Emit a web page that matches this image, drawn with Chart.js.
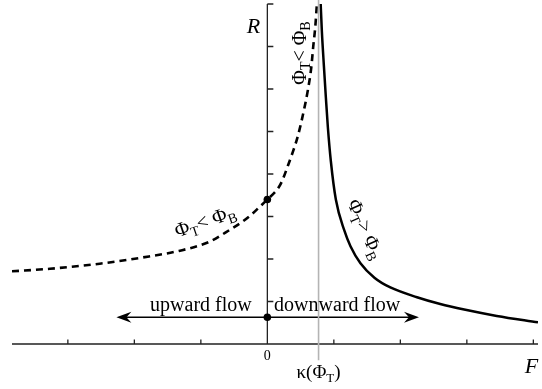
<!DOCTYPE html>
<html>
<head>
<meta charset="utf-8">
<script src="https://cdn.jsdelivr.net/npm/chart.js@4.4.1/dist/chart.umd.min.js"></script>
<style>
  html, body { margin: 0; padding: 0; background: #fff; }
  #wrap { width: 542px; height: 389px; position: relative; }
</style>
</head>
<body>
<div id="wrap"><canvas id="chart"></canvas></div>
<script>
// Axis ticks (F horizontal, R vertical)
const xTicks = [-3, -2, -1, 1, 2, 3, 4];
const yTicks = [1, 2, 3, 4, 5, 6, 7, 8];
const kappa = 0.77;

// Phi_T < Phi_B branch (dashed)
const dashedF = [-3.84, -3.27, -2.52, -1.78, -1.33, -0.88, -0.55, -0.39, -0.25, -0.12, 0, 0.15, 0.22, 0.31, 0.39, 0.46, 0.55, 0.61, 0.66, 0.69, 0.72, 0.745];
const dashedR = [1.71, 1.77, 1.89, 2.06, 2.19, 2.40, 2.70, 2.86, 3.03, 3.22, 3.40, 3.64, 3.83, 4.20, 4.55, 4.90, 5.50, 5.98, 6.50, 7.00, 7.45, 8.00];

// Phi_T > Phi_B branch (solid)
const solidF = [0.80, 0.82, 0.85, 0.88, 0.91, 0.955, 1.03, 1.16, 1.25, 1.40, 1.61, 1.85, 2.25, 2.60, 2.96, 3.45, 4.07];
const solidR = [8.07, 7.35, 6.55, 5.80, 5.10, 4.30, 3.40, 2.66, 2.30, 1.90, 1.56, 1.33, 1.10, 0.94, 0.81, 0.66, 0.51];

// flow arrows and marked points
const flowR = 0.63;
const upwardEnd = -2.27;
const downwardEnd = 2.28;
const dotF = [0, 0];
const dotR = [3.40, 0.63];

const pts = (xs, ys) => xs.map((x, i) => ({ x: x, y: ys[i] }));

const SERIF = '"Liberation Serif", "DejaVu Serif", serif';

// draw a label like Φ_T< Φ_B with subscripts, centred at (cx, cy), rotated by ang
function subLabel(ctx, parts, cx, cy, ang, size) {
    const big = size + 'px ' + SERIF, small = Math.round(size * 0.7) + 'px ' + SERIF;
    let w = 0;
    parts.forEach(p => { ctx.font = p[1] ? small : big; w += ctx.measureText(p[0]).width; });
    ctx.save();
    ctx.translate(cx, cy);
    ctx.rotate(ang * Math.PI / 180);
    ctx.textBaseline = 'alphabetic';
    ctx.textAlign = 'left';
    let x = -w / 2;
    parts.forEach(p => {
        ctx.font = p[1] ? small : big;
        ctx.fillText(p[0], x, p[1] ? size * 0.55 : size * 0.33);
        x += ctx.measureText(p[0]).width;
    });
    ctx.restore();
}

const decor = {
    id: 'decor',
    beforeDatasetsDraw(chart) {
        const { ctx, chartArea: a, scales: { x, y } } = chart;
        const x0 = x.getPixelForValue(0), y0 = y.getPixelForValue(0);
        ctx.save();
        ctx.strokeStyle = '#222';
        ctx.lineWidth = 1.3;
        ctx.beginPath();
        ctx.moveTo(a.left, y0); ctx.lineTo(a.right, y0);
        ctx.moveTo(x0, y0); ctx.lineTo(x0, y.getPixelForValue(8));
        xTicks.forEach(t => { const px = x.getPixelForValue(t); ctx.moveTo(px, y0); ctx.lineTo(px, y0 - 4.5); });
        yTicks.forEach(t => { const py = y.getPixelForValue(t); ctx.moveTo(x0, py); ctx.lineTo(x0 + 6, py); });
        ctx.stroke();
        ctx.restore();
    },
    afterDatasetsDraw(chart) {
        const { ctx, scales: { x, y } } = chart;
        const x0 = x.getPixelForValue(0), y0 = y.getPixelForValue(0);
        const fy = y.getPixelForValue(flowR);
        ctx.save();
        ctx.fillStyle = '#000';
        // arrow heads
        [[upwardEnd, -1], [downwardEnd, 1]].forEach(([v, d]) => {
            const tx = x.getPixelForValue(v);
            ctx.beginPath();
            ctx.moveTo(tx, fy);
            ctx.lineTo(tx - d * 15, fy - 5.5);
            ctx.lineTo(tx - d * 10, fy);
            ctx.lineTo(tx - d * 15, fy + 5.5);
            ctx.closePath();
            ctx.fill();
        });

        ctx.textAlign = 'center';
        ctx.textBaseline = 'alphabetic';
        ctx.font = 'italic 22px ' + SERIF;
        ctx.fillText('R', x0 - 14, y.getPixelForValue(7.32));
        ctx.fillText('F', x.getPixelForValue(3.97), y0 + 29);
        ctx.font = '14px ' + SERIF;
        ctx.fillText('0', x0, y0 + 16);

        // kappa(Phi_T) under the grey line
        const kx = x.getPixelForValue(kappa);
        ctx.font = '19px ' + SERIF;
        const wa = ctx.measureText('κ(Φ').width, wc = ctx.measureText(')').width;
        ctx.font = '13px ' + SERIF;
        const wb = ctx.measureText('T').width;
        let sx = kx - (wa + wb + wc) / 2;
        ctx.textAlign = 'left';
        ctx.font = '19px ' + SERIF;
        ctx.fillText('κ(Φ', sx, y0 + 34);
        ctx.font = '13px ' + SERIF;
        ctx.fillText('T', sx + wa, y0 + 38);
        ctx.font = '19px ' + SERIF;
        ctx.fillText(')', sx + wa + wb, y0 + 34);

        ctx.textAlign = 'center';
        ctx.font = '20px ' + SERIF;
        ctx.fillText('upward flow', (x0 + x.getPixelForValue(upwardEnd)) / 2 + 9, fy - 6);
        ctx.fillText('downward flow', (x0 + x.getPixelForValue(downwardEnd)) / 2 - 6, fy - 6);

        // branch labels
        const lt = [['Φ', 0], ['T', 1], ['< Φ', 0], ['B', 1]];
        const gt = [['Φ', 0], ['T', 1], ['> Φ', 0], ['B', 1]];
        subLabel(ctx, lt, 205, 221, -19, 20);
        subLabel(ctx, lt, 299, 53, -90, 20);
        subLabel(ctx, gt, 366, 229, 66, 20);
        ctx.restore();
    }
};

new Chart(document.getElementById('chart'), {
    type: 'scatter',
    data: {
        datasets: [
            {   // kappa(Phi_T) marker line
                data: [{ x: kappa, y: -0.38 }, { x: kappa, y: 8.1 }],
                showLine: true, borderColor: '#b4b4b4', borderWidth: 1.6,
                pointRadius: 0, clip: false
            },
            {
                data: pts(dashedF, dashedR),
                showLine: true, borderColor: '#000', borderWidth: 2.6,
                borderDash: [7, 5], pointRadius: 0, cubicInterpolationMode: 'monotone'
            },
            {
                data: pts(solidF, solidR),
                showLine: true, borderColor: '#000', borderWidth: 2.5,
                pointRadius: 0, cubicInterpolationMode: 'monotone'
            },
            {   // flow arrows (shafts)
                data: [{ x: upwardEnd + 0.1, y: flowR }, { x: 0, y: flowR }, { x: downwardEnd - 0.1, y: flowR }],
                showLine: true, borderColor: '#000', borderWidth: 1.3, pointRadius: 0
            },
            {
                data: pts(dotF, dotR),
                showLine: false, pointRadius: 3.8, pointBackgroundColor: '#000', pointBorderWidth: 0
            }
        ]
    },
    options: {
        responsive: true,
        maintainAspectRatio: false,
        animation: false,
        layout: { padding: { left: 12, right: 0, top: 3, bottom: 45 } },
        plugins: { legend: { display: false }, tooltip: { enabled: false } },
        scales: {
            x: { type: 'linear', min: -3.84, max: 4.07, display: false },
            y: { type: 'linear', min: 0, max: 8, display: false }
        }
    },
    plugins: [decor]
});
</script>
</body>
</html>
